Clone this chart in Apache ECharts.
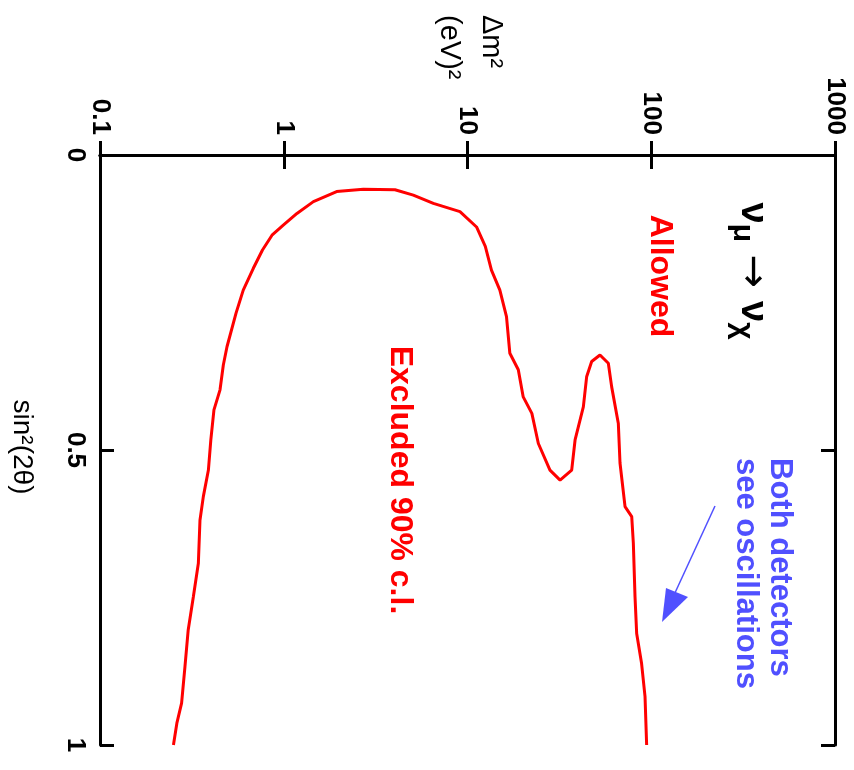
<!DOCTYPE html>
<html>
<head>
<meta charset="utf-8">
<script src="https://cdn.jsdelivr.net/npm/echarts@6/dist/echarts.min.js"></script>
<style>
  html, body { margin: 0; padding: 0; background: #fff; }
  #chart { width: 854px; height: 770px; }
</style>
</head>
<body>
<div id="chart"></div>
<script>
// exclusion contour, traced in order: left branch up, over the top, right branch down
const dm2Values = [0.251, 0.262, 0.278, 0.290, 0.302, 0.322, 0.343, 0.350, 0.365, 0.389,
  0.401, 0.417, 0.450, 0.469, 0.491, 0.550, 0.602, 0.683, 0.766, 0.863,
  0.994, 1.18, 1.45, 1.94, 2.71, 4.03, 5.07, 6.52, 9.10, 11.2,
  12.5, 13.5, 15.0, 16.3, 17.0, 18.9, 20.1, 22.4, 24.3, 28.1,
  31.9, 36.9, 38.5, 42.7, 44.5, 47.4, 52.6, 58.4, 60.9, 66.2,
  67.6, 72.0, 78.3, 79.9, 81.6, 83.3, 88.6, 92.5, 94.4];
const sin2Values = [1.0, 0.963, 0.929, 0.867, 0.805, 0.749, 0.692, 0.619, 0.579, 0.534,
  0.483, 0.432, 0.398, 0.356, 0.325, 0.268, 0.229, 0.192, 0.161, 0.136,
  0.119, 0.099, 0.079, 0.062, 0.058, 0.059, 0.068, 0.082, 0.096, 0.122,
  0.155, 0.195, 0.229, 0.274, 0.336, 0.364, 0.410, 0.438, 0.489, 0.534,
  0.551, 0.534, 0.483, 0.427, 0.376, 0.350, 0.339, 0.353, 0.393, 0.455,
  0.522, 0.596, 0.613, 0.658, 0.749, 0.811, 0.862, 0.918, 1.0];

const dm2Ticks = [0.1, 1, 10, 100, 1000];
const sin2Ticks = [0, 0.5, 1];

const FONT = "'Liberation Sans', Arial, sans-serif";
const RED = "#ff0000";
const BLUE = "#5050ff";
const ROT = -Math.PI / 2;

const lineStyle = { color: "#000", width: 3 };
const tickStyle = { show: true, inside: true, length: 14, lineStyle: { color: "#000", width: 3 } };

function logAxis(pos, showLabels) {
  return {
    type: "log",
    logBase: 10,
    position: pos,
    min: dm2Ticks[0],
    max: dm2Ticks[dm2Ticks.length - 1],
    axisLine: { show: true, lineStyle: lineStyle },
    axisTick: tickStyle,
    minorTick: { show: false },
    splitLine: { show: false },
    axisLabel: {
      show: showLabels,
      rotate: -90,
      margin: 20,
      fontFamily: FONT,
      fontSize: 26,
      fontWeight: "bold",
      color: "#000",
      formatter: (v) => String(+Number(v).toPrecision(3)),
    },
  };
}

function sinAxis(pos, showLabels) {
  return {
    type: "value",
    position: pos,
    inverse: true,
    min: sin2Ticks[0],
    max: sin2Ticks[sin2Ticks.length - 1],
    interval: sin2Ticks[1] - sin2Ticks[0],
    axisLine: { show: true, lineStyle: lineStyle },
    axisTick: tickStyle,
    splitLine: { show: false },
    axisLabel: {
      show: showLabels,
      rotate: -90,
      margin: 12,
      fontFamily: FONT,
      fontSize: 26,
      fontWeight: "bold",
      color: "#000",
    },
  };
}

const option = {
  animation: false,
  backgroundColor: "#fff",
  grid: { left: 100, right: 19, top: 155, bottom: 25, outerBoundsMode: "none" },
  xAxis: [logAxis("top", true), logAxis("bottom", false)],
  yAxis: [sinAxis("left", true), sinAxis("right", false)],
  series: [
    {
      type: "line",
      xAxisIndex: 0,
      yAxisIndex: 0,
      data: dm2Values.map((d, i) => [d, sin2Values[i]]),
      showSymbol: false,
      smooth: false,
      clip: false,
      lineStyle: { color: RED, width: 3 },
    },
  ],
  graphic: [
    {
      type: "text", x: 470, y: 15, rotation: ROT,
      style: {
        text: "Δm²\n(eV)²", font: "29px " + FONT, fill: "#000",
        lineHeight: 42, align: "left", verticalAlign: "middle",
      },
    },
    {
      type: "text", x: 22, y: 447, rotation: ROT,
      style: {
        text: "sin²(2θ)", font: "28px " + FONT, fill: "#000",
        align: "center", verticalAlign: "middle",
      },
    },
    {
      type: "text", x: 749, y: 271, rotation: ROT,
      style: {
        text: "{n|ν}{s|μ}{a| → }{n|ν}{s|χ}",
        align: "center", verticalAlign: "middle", fill: "#000",
        rich: {
          n: { fontFamily: FONT, fontSize: 38, fontWeight: "bold", lineHeight: 44, verticalAlign: "top" },
          s: { fontFamily: FONT, fontSize: 30, fontWeight: "bold", lineHeight: 30, verticalAlign: "bottom" },
          a: { fontFamily: "'DejaVu Sans', sans-serif", fontSize: 40, lineHeight: 44, verticalAlign: "top" },
        },
      },
    },
    {
      type: "text", x: 660, y: 276, rotation: ROT,
      style: {
        text: "Allowed", font: "bold 32px " + FONT, fill: RED,
        align: "center", verticalAlign: "middle",
      },
    },
    {
      type: "text", x: 400, y: 480, rotation: ROT,
      style: {
        text: "Excluded 90% c.l.", font: "bold 32px " + FONT, fill: RED,
        align: "center", verticalAlign: "middle",
      },
    },
    {
      type: "text", x: 763, y: 458, rotation: ROT,
      style: {
        text: "Both detectors\nsee oscillations", font: "bold 31px " + FONT, fill: BLUE,
        lineHeight: 34, align: "left", verticalAlign: "middle",
      },
    },
    {
      type: "line",
      shape: { x1: 715, y1: 506, x2: 674, y2: 595 },
      style: { stroke: BLUE, lineWidth: 1.5 },
    },
    {
      type: "polygon",
      shape: { points: [[662, 622], [666, 588], [688, 597]] },
      style: { fill: BLUE },
    },
  ],
};

const myChart = echarts.init(document.getElementById("chart"));
myChart.setOption(option);
window.addEventListener("resize", () => {
  myChart.resize();
});
</script>
</body>
</html>
